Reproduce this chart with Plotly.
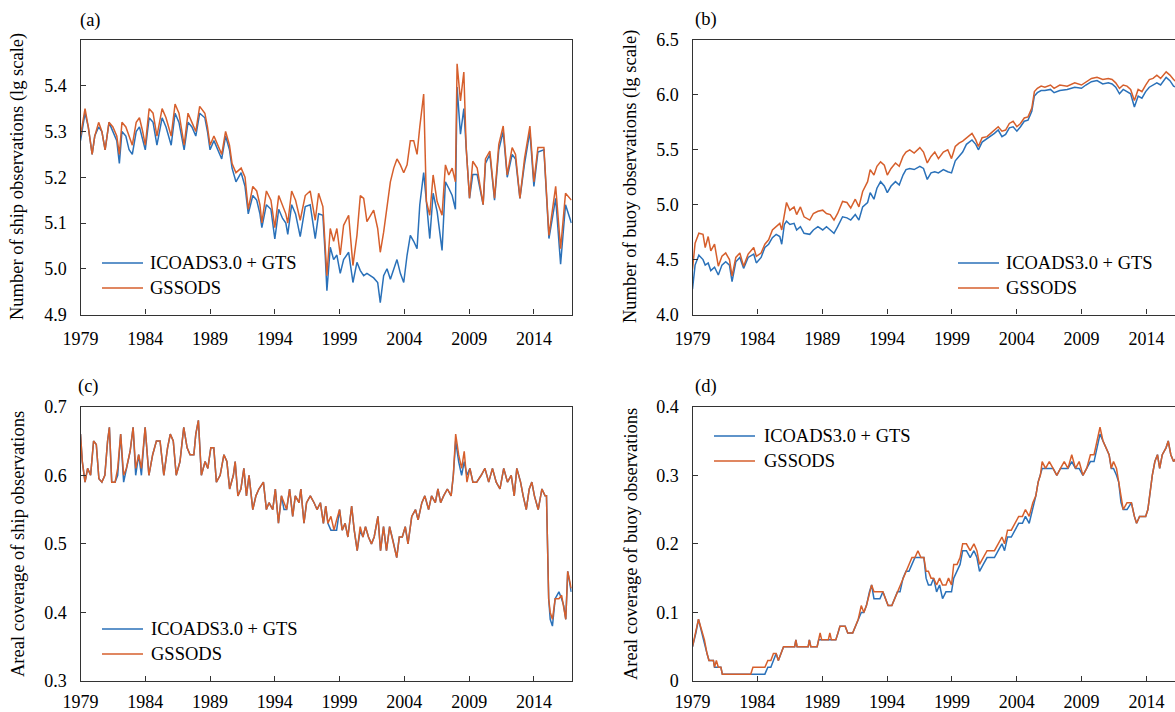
import plotly.graph_objects as go

W, H = 1175, 712
FONT = "Liberation Serif"
BLUE = "#2a71b9"
ORANGE = "#d65f2c"
AX = "#333333"

# ---------------- data (decimal years) ----------------
# (a) number of ship observations (lg scale)
a_t = [1979.00, 1979.15, 1979.35, 1979.6, 1979.9, 1980.1, 1980.4, 1980.65, 1980.9, 1981.2,
       1981.5, 1981.8, 1982.0, 1982.2, 1982.5, 1982.75, 1983.0, 1983.3, 1983.55, 1983.8,
       1984.0, 1984.3, 1984.6, 1984.9, 1985.3, 1985.6, 1986.0, 1986.3, 1986.6, 1987.0,
       1987.3, 1987.6, 1987.9, 1988.2, 1988.6, 1988.8, 1989.0, 1989.3, 1989.6, 1989.9,
       1990.2, 1990.5, 1990.7, 1991.0, 1991.4, 1991.7, 1991.95, 1992.3, 1992.6, 1992.85,
       1993.0, 1993.35, 1993.7, 1994.0, 1994.3, 1994.6, 1994.85, 1995.0, 1995.3, 1995.6,
       1995.96, 1996.35, 1996.73, 1997.12, 1997.38, 1997.71, 1997.89, 1998.02, 1998.28, 1998.54,
       1998.79, 1999.05, 1999.31, 1999.7, 2000.03, 2000.34, 2000.6, 2000.86, 2001.11, 2001.37,
       2001.63, 2001.94, 2002.14, 2002.4, 2002.66, 2002.92, 2003.18, 2003.43, 2003.69, 2003.95,
       2004.21, 2004.46, 2004.72, 2004.98, 2005.19, 2005.49, 2005.7, 2005.96, 2006.22, 2006.53,
       2006.91, 2007.17, 2007.43, 2007.69, 2007.94, 2008.07, 2008.33, 2008.59, 2008.77, 2009.03,
       2009.28, 2009.62, 2010.08, 2010.26, 2010.6, 2010.96, 2011.29, 2011.63, 2011.94, 2012.32,
       2012.58, 2012.92, 2013.28, 2013.69, 2014.0, 2014.31, 2014.77, 2015.16, 2015.68, 2016.06,
       2016.44, 2016.89]
a_gts = [5.28, 5.31, 5.34, 5.31, 5.25, 5.29, 5.31, 5.30, 5.26, 5.32,
         5.30, 5.28, 5.23, 5.30, 5.29, 5.26, 5.25, 5.30, 5.31, 5.28,
         5.26, 5.33, 5.32, 5.27, 5.33, 5.31, 5.27, 5.34, 5.32, 5.26,
         5.32, 5.31, 5.29, 5.34, 5.33, 5.30, 5.26, 5.28, 5.26, 5.24,
         5.29, 5.26, 5.22, 5.19, 5.21, 5.18, 5.12, 5.16, 5.15, 5.12,
         5.09, 5.14, 5.13, 5.065, 5.13, 5.11, 5.10, 5.075, 5.14, 5.12,
         5.07, 5.136, 5.14, 5.066, 5.12, 5.117, 5.03, 4.952, 5.047, 5.02,
         5.03, 4.99, 5.02, 5.036, 4.97, 5.014, 4.996, 4.985, 4.99, 4.985,
         4.98, 4.97, 4.926, 4.985, 5.0, 4.977, 5.0, 5.02, 4.99, 4.97,
         5.03, 5.073, 5.06, 5.044, 5.14, 5.21, 5.147, 5.066, 5.165, 5.125,
         5.04, 5.19, 5.176, 5.16, 5.13, 5.397, 5.294, 5.35, 5.265, 5.154,
         5.206, 5.206, 5.14, 5.23, 5.25, 5.15, 5.26, 5.30, 5.20, 5.25,
         5.24, 5.154, 5.23, 5.30, 5.18, 5.255, 5.26, 5.066, 5.154, 5.01,
         5.14, 5.10]
a_gss = [5.29, 5.32, 5.35, 5.31, 5.25, 5.29, 5.32, 5.30, 5.26, 5.32,
         5.31, 5.29, 5.25, 5.32, 5.31, 5.29, 5.27, 5.32, 5.33, 5.30,
         5.27, 5.35, 5.34, 5.29, 5.35, 5.33, 5.29, 5.36, 5.34, 5.27,
         5.34, 5.32, 5.30, 5.355, 5.34, 5.31, 5.27, 5.29, 5.27, 5.25,
         5.30, 5.27, 5.23, 5.21, 5.22, 5.20, 5.13, 5.18, 5.17, 5.14,
         5.10, 5.17, 5.15, 5.09, 5.16, 5.14, 5.12, 5.10, 5.17, 5.15,
         5.106, 5.16, 5.17, 5.106, 5.165, 5.136, 5.06, 4.985, 5.088, 5.06,
         5.088, 5.03, 5.095, 5.117, 5.007, 5.073, 5.16, 5.154, 5.103, 5.117,
         5.128, 5.088, 5.036, 5.08, 5.132, 5.19, 5.22, 5.24, 5.227, 5.21,
         5.227, 5.28, 5.28, 5.25, 5.31, 5.382, 5.147, 5.117, 5.205, 5.147,
         5.117, 5.227, 5.205, 5.22, 5.19, 5.448, 5.367, 5.43, 5.265, 5.154,
         5.235, 5.22, 5.14, 5.24, 5.257, 5.154, 5.272, 5.312, 5.205, 5.265,
         5.25, 5.154, 5.242, 5.312, 5.19, 5.265, 5.265, 5.073, 5.18, 5.044,
         5.165, 5.15]

# (b) number of buoy observations (lg scale)
b_t = [1979.00, 1979.20, 1979.49, 1979.81, 1979.98, 1980.21, 1980.41, 1980.70, 1980.99, 1981.27,
       1981.56, 1981.85, 1982.05, 1982.34, 1982.65, 1982.94, 1983.29, 1983.72, 1983.92, 1984.29,
       1984.58, 1984.87, 1985.16, 1985.45, 1985.73, 1985.88, 1986.08, 1986.25, 1986.51, 1986.83,
       1987.03, 1987.32, 1987.60, 1988.04, 1988.32, 1988.67, 1989.04, 1989.33, 1989.62, 1989.91,
       1990.19, 1990.57, 1990.91, 1991.20, 1991.55, 1991.83, 1992.12, 1992.50, 1992.70, 1992.99,
       1993.22, 1993.50, 1993.79, 1994.02, 1994.31, 1994.65, 1994.94, 1995.23, 1995.46, 1995.75,
       1996.09, 1996.53, 1996.81, 1997.10, 1997.39, 1997.68, 1997.96, 1998.34, 1998.68, 1998.97,
       1999.26, 1999.55, 1999.83, 2000.12, 2000.55, 2000.84, 2001.04, 2001.33, 2001.71, 2001.99,
       2002.28, 2002.57, 2002.86, 2003.14, 2003.43, 2003.72, 2004.01, 2004.29, 2004.58, 2004.87,
       2005.16, 2005.36, 2005.59, 2005.88, 2006.17, 2006.60, 2006.88, 2007.32, 2007.89, 2008.47,
       2008.99, 2009.33, 2009.76, 2010.19, 2010.63, 2011.06, 2011.35, 2011.63, 2011.92, 2012.21,
       2012.50, 2012.78, 2013.07, 2013.36, 2013.65, 2013.94, 2014.22, 2014.51, 2014.80, 2015.09,
       2015.52, 2015.81, 2016.09, 2016.5, 2016.92]
b_gts = [4.23, 4.45, 4.54, 4.50, 4.45, 4.47, 4.40, 4.43, 4.36, 4.45,
         4.48, 4.45, 4.30, 4.48, 4.52, 4.42, 4.52, 4.55, 4.47, 4.52,
         4.61, 4.64, 4.70, 4.73, 4.71, 4.64, 4.82, 4.85, 4.82, 4.83,
         4.77, 4.80, 4.74, 4.73, 4.77, 4.80, 4.77, 4.80, 4.77, 4.74,
         4.80, 4.89, 4.88, 4.86, 4.91, 4.86, 4.98, 5.02, 5.11, 5.05,
         5.15, 5.21, 5.17, 5.11, 5.17, 5.21, 5.18, 5.27, 5.32, 5.33,
         5.32, 5.35, 5.33, 5.23, 5.29, 5.30, 5.29, 5.32, 5.30, 5.29,
         5.40, 5.44, 5.48, 5.55, 5.59, 5.55, 5.50, 5.57, 5.60, 5.62,
         5.65, 5.68, 5.62, 5.64, 5.70, 5.71, 5.67, 5.71, 5.76, 5.77,
         5.85, 5.99, 6.02, 6.04, 6.04, 6.05, 6.02, 6.04, 6.05, 6.07,
         6.06, 6.09, 6.12, 6.13, 6.10, 6.11, 6.10, 6.07, 6.01, 6.05,
         6.03, 6.01, 5.89, 5.99, 5.97, 6.03, 6.07, 6.09, 6.11, 6.09,
         6.16, 6.13, 6.08, 6.06, 6.04]
b_gss = [4.41, 4.65, 4.74, 4.73, 4.61, 4.71, 4.58, 4.64, 4.44, 4.53,
         4.56, 4.50, 4.35, 4.52, 4.56, 4.44, 4.55, 4.61, 4.53, 4.56,
         4.64, 4.68, 4.77, 4.80, 4.83, 4.77, 4.92, 5.02, 4.95, 4.98,
         4.91, 4.98, 4.89, 4.86, 4.92, 4.94, 4.95, 4.92, 4.91, 4.86,
         4.92, 5.03, 5.02, 4.97, 5.05, 4.98, 5.12, 5.21, 5.32, 5.27,
         5.35, 5.39, 5.36, 5.27, 5.33, 5.38, 5.35, 5.44, 5.48, 5.50,
         5.47, 5.52, 5.48, 5.38, 5.44, 5.48, 5.42, 5.48, 5.50, 5.42,
         5.53, 5.56, 5.58, 5.61, 5.65, 5.59, 5.53, 5.61, 5.62, 5.65,
         5.68, 5.71, 5.67, 5.68, 5.74, 5.76, 5.71, 5.74, 5.79, 5.80,
         5.88, 6.03, 6.06, 6.08, 6.07, 6.09, 6.06, 6.09, 6.08, 6.11,
         6.09, 6.12, 6.15, 6.16, 6.14, 6.15, 6.14, 6.11, 6.06, 6.09,
         6.08, 6.05, 5.95, 6.05, 6.03, 6.09, 6.14, 6.15, 6.18, 6.15,
         6.21, 6.18, 6.14, 6.10, 6.08]

# (c) areal coverage of ship observations
c_t = [1979.00, 1979.14, 1979.35, 1979.55, 1979.78, 1980.01, 1980.22, 1980.42, 1980.65, 1980.88,
       1981.09, 1981.23, 1981.41, 1981.67, 1981.87, 1982.10, 1982.33, 1982.54, 1982.83, 1983.06,
       1983.26, 1983.49, 1983.70, 1983.99, 1984.28, 1984.57, 1984.86, 1985.14, 1985.43, 1985.72,
       1985.93, 1986.16, 1986.39, 1986.68, 1986.97, 1987.23, 1987.46, 1987.75, 1987.90, 1988.10,
       1988.33, 1988.62, 1988.83, 1989.06, 1989.29, 1989.49, 1989.78, 1990.07, 1990.30, 1990.51,
       1990.80, 1990.94, 1991.15, 1991.38, 1991.61, 1991.81, 1992.01, 1992.30, 1992.54, 1992.77,
       1993.12, 1993.35, 1993.55, 1993.84, 1994.04, 1994.28, 1994.51, 1994.71, 1994.91, 1995.14,
       1995.38, 1995.58, 1995.87, 1996.01, 1996.25, 1996.45, 1996.74, 1997.03, 1997.26, 1997.52,
       1997.75, 1997.93, 1998.10, 1998.33, 1998.57, 1998.77, 1999.00, 1999.20, 1999.43, 1999.64,
       1999.93, 2000.13, 2000.36, 2000.59, 2000.80, 2001.00, 2001.23, 2001.46, 2001.67, 2001.96,
       2002.16, 2002.39, 2002.62, 2002.86, 2003.12, 2003.41, 2003.61, 2003.84, 2004.07, 2004.28,
       2004.57, 2004.86, 2005.06, 2005.35, 2005.58, 2005.87, 2006.10, 2006.39, 2006.59, 2006.80,
       2007.03, 2007.32, 2007.61, 2007.78, 2007.96, 2008.19, 2008.42, 2008.62, 2008.83, 2009.06,
       2009.29, 2009.58, 2009.93, 2010.22, 2010.51, 2010.80, 2011.09, 2011.38, 2011.67, 2011.96,
       2012.25, 2012.48, 2012.68, 2012.97, 2013.17, 2013.41, 2013.64, 2013.84, 2014.04, 2014.33,
       2014.62, 2014.86, 2014.97, 2015.14, 2015.26, 2015.43, 2015.64, 2015.93, 2016.14, 2016.30,
       2016.46, 2016.61, 2016.88]
c_gts = [0.66, 0.62, 0.59, 0.61, 0.60, 0.65, 0.645, 0.595, 0.59, 0.60,
         0.65, 0.67, 0.59, 0.59, 0.60, 0.66, 0.59, 0.61, 0.635, 0.67,
         0.60, 0.63, 0.60, 0.67, 0.60, 0.63, 0.65, 0.65, 0.60, 0.64,
         0.66, 0.65, 0.60, 0.62, 0.67, 0.64, 0.63, 0.63, 0.66, 0.68,
         0.60, 0.62, 0.61, 0.64, 0.64, 0.59, 0.60, 0.63, 0.62, 0.58,
         0.60, 0.62, 0.57, 0.58, 0.61, 0.57, 0.60, 0.55, 0.57, 0.58,
         0.59, 0.55, 0.56, 0.55, 0.58, 0.53, 0.57, 0.55, 0.55, 0.58,
         0.54, 0.57, 0.56, 0.58, 0.53, 0.56, 0.57, 0.56, 0.55, 0.56,
         0.53, 0.555, 0.53, 0.52, 0.52, 0.52, 0.55, 0.52, 0.53, 0.51,
         0.555, 0.52, 0.49, 0.52, 0.51, 0.525, 0.51, 0.50, 0.51, 0.54,
         0.49, 0.525, 0.49, 0.525, 0.505, 0.48, 0.51, 0.51, 0.525, 0.50,
         0.54, 0.55, 0.535, 0.56, 0.57, 0.55, 0.57, 0.56, 0.58, 0.56,
         0.57, 0.58, 0.57, 0.60, 0.65, 0.62, 0.60, 0.62, 0.60, 0.61,
         0.59, 0.59, 0.60, 0.61, 0.59, 0.61, 0.59, 0.58, 0.61, 0.59,
         0.60, 0.57, 0.61, 0.59, 0.57, 0.55, 0.58, 0.59, 0.57, 0.55,
         0.58, 0.57, 0.57, 0.42, 0.39, 0.38, 0.42, 0.43, 0.42, 0.41,
         0.39, 0.46, 0.43]
c_gss = [0.66, 0.62, 0.59, 0.61, 0.60, 0.65, 0.645, 0.595, 0.59, 0.60,
         0.65, 0.67, 0.59, 0.59, 0.61, 0.66, 0.60, 0.61, 0.635, 0.67,
         0.61, 0.63, 0.61, 0.67, 0.60, 0.63, 0.65, 0.65, 0.60, 0.64,
         0.66, 0.65, 0.60, 0.62, 0.67, 0.64, 0.63, 0.63, 0.66, 0.68,
         0.60, 0.62, 0.61, 0.64, 0.64, 0.59, 0.60, 0.63, 0.62, 0.58,
         0.60, 0.62, 0.57, 0.58, 0.61, 0.57, 0.60, 0.55, 0.57, 0.58,
         0.59, 0.55, 0.56, 0.55, 0.58, 0.53, 0.57, 0.56, 0.55, 0.58,
         0.54, 0.57, 0.56, 0.58, 0.53, 0.56, 0.57, 0.56, 0.55, 0.56,
         0.53, 0.555, 0.53, 0.54, 0.52, 0.535, 0.55, 0.52, 0.53, 0.51,
         0.555, 0.52, 0.49, 0.525, 0.51, 0.525, 0.51, 0.50, 0.51, 0.54,
         0.49, 0.525, 0.49, 0.525, 0.505, 0.48, 0.51, 0.51, 0.525, 0.50,
         0.54, 0.55, 0.535, 0.56, 0.57, 0.55, 0.57, 0.56, 0.58, 0.56,
         0.57, 0.58, 0.57, 0.60, 0.66, 0.63, 0.61, 0.635, 0.59, 0.61,
         0.59, 0.59, 0.60, 0.61, 0.59, 0.61, 0.59, 0.58, 0.61, 0.59,
         0.60, 0.57, 0.61, 0.59, 0.57, 0.55, 0.58, 0.59, 0.57, 0.55,
         0.58, 0.57, 0.57, 0.42, 0.40, 0.39, 0.42, 0.42, 0.425, 0.41,
         0.39, 0.46, 0.435]

# (d) areal coverage of buoy observations
d_t = [1979.00, 1979.26, 1979.46, 1979.69, 1979.92, 1980.12, 1980.27, 1980.61, 1980.70, 1980.84,
       1980.99, 1981.19, 1981.30, 1983.49, 1983.66, 1983.95, 1984.06, 1984.35, 1984.58, 1984.81,
       1985.04, 1985.24, 1985.45, 1985.62, 1985.79, 1986.02, 1986.88, 1986.97, 1987.06, 1987.92,
       1988.01, 1988.12, 1988.61, 1988.73, 1988.84, 1988.96, 1989.47, 1989.59, 1989.71, 1990.05,
       1990.22, 1990.37, 1990.77, 1990.97, 1991.35, 1991.55, 1991.78, 1992.01, 1992.21, 1992.41,
       1992.64, 1992.81, 1992.99, 1993.22, 1993.45, 1993.68, 1993.88, 1994.08, 1994.37, 1994.60,
       1994.80, 1995.00, 1995.23, 1995.46, 1995.69, 1995.92, 1996.15, 1996.38, 1996.61, 1996.84,
       1997.01, 1997.19, 1997.39, 1997.59, 1997.82, 1998.05, 1998.28, 1998.54, 1998.74, 1998.97,
       1999.14, 1999.40, 1999.63, 1999.83, 2000.12, 2000.41, 2000.70, 2000.93, 2001.13, 2001.42,
       2001.71, 2001.99, 2002.28, 2002.57, 2002.86, 2003.06, 2003.29, 2003.58, 2003.86, 2004.15,
       2004.44, 2004.67, 2004.96, 2005.24, 2005.47, 2005.65, 2005.82, 2005.96, 2006.22, 2006.51,
       2006.80, 2007.09, 2007.37, 2007.66, 2007.95, 2008.24, 2008.53, 2008.81, 2009.10, 2009.39,
       2009.68, 2009.96, 2010.19, 2010.42, 2010.65, 2010.88, 2011.12, 2011.29, 2011.46, 2011.69,
       2011.86, 2012.04, 2012.21, 2012.50, 2012.84, 2013.07, 2013.24, 2013.47, 2013.94, 2014.11,
       2014.28, 2014.45, 2014.65, 2014.85, 2015.02, 2015.22, 2015.51, 2015.68, 2015.88, 2016.09,
       2016.5, 2016.92]
d_gts = [0.05, 0.07, 0.09, 0.07, 0.055, 0.04, 0.03, 0.03, 0.02, 0.02,
         0.02, 0.02, 0.01, 0.01, 0.01, 0.01, 0.01, 0.01, 0.01, 0.02,
         0.02, 0.03, 0.04, 0.03, 0.04, 0.05, 0.05, 0.06, 0.05, 0.05,
         0.06, 0.05, 0.05, 0.06, 0.06, 0.06, 0.06, 0.06, 0.06, 0.06,
         0.07, 0.08, 0.08, 0.07, 0.07, 0.08, 0.09, 0.10, 0.10, 0.11,
         0.13, 0.14, 0.12, 0.12, 0.12, 0.13, 0.12, 0.11, 0.11, 0.12,
         0.13, 0.13, 0.15, 0.16, 0.16, 0.17, 0.18, 0.18, 0.18, 0.18,
         0.15, 0.14, 0.14, 0.15, 0.13, 0.14, 0.12, 0.13, 0.13, 0.13,
         0.15, 0.16, 0.17, 0.19, 0.19, 0.18, 0.19, 0.18, 0.16, 0.17,
         0.18, 0.18, 0.18, 0.19, 0.20, 0.19, 0.21, 0.21, 0.22, 0.23,
         0.23, 0.24, 0.23, 0.25, 0.27, 0.29, 0.30, 0.31, 0.31, 0.31,
         0.31, 0.30, 0.31, 0.31, 0.31, 0.32, 0.31, 0.31, 0.30, 0.31,
         0.32, 0.32, 0.34, 0.36, 0.35, 0.34, 0.33, 0.31, 0.31, 0.30,
         0.29, 0.26, 0.25, 0.25, 0.26, 0.24, 0.23, 0.24, 0.24, 0.25,
         0.28, 0.30, 0.32, 0.33, 0.31, 0.33, 0.34, 0.35, 0.33, 0.32,
         0.33, 0.33]
d_gss = [0.05, 0.075, 0.09, 0.075, 0.06, 0.04, 0.03, 0.03, 0.02, 0.03,
         0.02, 0.02, 0.01, 0.01, 0.02, 0.02, 0.02, 0.02, 0.02, 0.03,
         0.03, 0.04, 0.04, 0.03, 0.04, 0.05, 0.05, 0.06, 0.05, 0.05,
         0.06, 0.05, 0.05, 0.06, 0.07, 0.06, 0.06, 0.07, 0.06, 0.06,
         0.07, 0.08, 0.08, 0.07, 0.07, 0.08, 0.09, 0.11, 0.10, 0.11,
         0.13, 0.14, 0.13, 0.13, 0.13, 0.13, 0.12, 0.11, 0.11, 0.12,
         0.13, 0.14, 0.15, 0.16, 0.17, 0.18, 0.18, 0.19, 0.18, 0.18,
         0.16, 0.16, 0.15, 0.15, 0.14, 0.15, 0.14, 0.14, 0.15, 0.14,
         0.17, 0.17, 0.18, 0.20, 0.20, 0.19, 0.20, 0.19, 0.17, 0.18,
         0.19, 0.19, 0.19, 0.20, 0.21, 0.20, 0.22, 0.22, 0.23, 0.24,
         0.24, 0.25, 0.24, 0.26, 0.27, 0.29, 0.30, 0.32, 0.31, 0.32,
         0.31, 0.30, 0.31, 0.32, 0.31, 0.33, 0.31, 0.32, 0.30, 0.31,
         0.33, 0.33, 0.35, 0.37, 0.35, 0.34, 0.33, 0.31, 0.32, 0.31,
         0.29, 0.27, 0.25, 0.26, 0.26, 0.24, 0.23, 0.24, 0.24, 0.25,
         0.28, 0.30, 0.32, 0.33, 0.31, 0.33, 0.34, 0.35, 0.33, 0.32,
         0.33, 0.33]

series_names = ["ICOADS3.0 + GTS", "GSSODS"]
x_ticks = [1979, 1984, 1989, 1994, 1999, 2004, 2009, 2014]
a_yticks = [4.9, 5.0, 5.1, 5.2, 5.3, 5.4]
b_yticks = [4.0, 4.5, 5.0, 5.5, 6.0, 6.5]
c_yticks = [0.3, 0.4, 0.5, 0.6, 0.7]
d_yticks = [0, 0.1, 0.2, 0.3, 0.4]
a_ylabels = ["4.9", "5.0", "5.1", "5.2", "5.3", "5.4"]
b_ylabels = ["4.0", "4.5", "5.0", "5.5", "6.0", "6.5"]
c_ylabels = ["0.3", "0.4", "0.5", "0.6", "0.7"]
d_ylabels = ["0", "0.1", "0.2", "0.3", "0.4"]
titles = ["Number of ship observations (lg scale)",
          "Number of buoy observations (lg scale)",
          "Areal coverage of ship observations",
          "Areal coverage of buoy observations"]

# ---------------- layout geometry (pixels) ----------------
def px_x(p):
    return p / W

def px_y(p):
    return 1 - p / H

LEFT = (80.5, 571.7)
RIGHT = (692.5, 1175.0)
TOP = (40.0, 314.5)
BOT = (406.7, 681.0)

fig = go.Figure()

panels = [
    ("x", "y", a_t, a_gts, a_gss),
    ("x2", "y2", b_t, b_gts, b_gss),
    ("x3", "y3", c_t, c_gts, c_gss),
    ("x4", "y4", d_t, d_gts, d_gss),
]
for xa, ya, t, g1, g2 in panels:
    fig.add_trace(go.Scatter(x=t, y=g1, mode="lines", name=series_names[0], xaxis=xa, yaxis=ya,
                             line=dict(color=BLUE, width=1.5), showlegend=False))
    fig.add_trace(go.Scatter(x=t, y=g2, mode="lines", name=series_names[1], xaxis=xa, yaxis=ya,
                             line=dict(color=ORANGE, width=1.5), showlegend=False))

tickfont = dict(family=FONT, size=18, color="black")

def xaxis(dom, rng, anchor, standoff):
    return dict(domain=[px_x(dom[0]), px_x(dom[1])], range=rng, anchor=anchor,
                tickmode="array", tickvals=x_ticks, ticktext=[str(v) for v in x_ticks],
                ticks="inside", ticklen=5, tickwidth=1, tickcolor=AX,
                showline=True, linecolor=AX, linewidth=1.3, mirror=True, automargin=False,
                showgrid=False, zeroline=False, tickfont=tickfont, ticklabelstandoff=standoff)

def yaxis(dom, rng, anchor, vals, labels, mirror):
    return dict(domain=[px_y(dom[1]), px_y(dom[0])], range=rng, anchor=anchor,
                tickmode="array", tickvals=vals, ticktext=labels,
                ticks="inside", ticklen=5, tickwidth=1, tickcolor=AX,
                showline=True, linecolor=AX, linewidth=1.3, mirror=mirror, automargin=False,
                showgrid=False, zeroline=False, tickfont=tickfont, ticklabelstandoff=9)

right_end = 1979 + (RIGHT[1] - RIGHT[0]) / 12.97

fig.update_layout(
    width=W, height=H, margin=dict(l=0, r=0, t=0, b=0, autoexpand=False),
    paper_bgcolor="white", plot_bgcolor="white", showlegend=False,
    xaxis=xaxis(LEFT, [1979, 2016.917], "y", 8),
    yaxis=yaxis(TOP, [4.9, 5.5], "x", a_yticks, a_ylabels, True),
    xaxis2=xaxis(RIGHT, [1979, right_end], "y2", 8),
    yaxis2=yaxis(TOP, [4.0, 6.5], "x2", b_yticks, b_ylabels, False),
    xaxis3=xaxis(LEFT, [1979, 2016.917], "y3", 4),
    yaxis3=yaxis(BOT, [0.3, 0.7], "x3", c_yticks, c_ylabels, True),
    xaxis4=xaxis(RIGHT, [1979, right_end], "y4", 4),
    yaxis4=yaxis(BOT, [0, 0.4], "x4", d_yticks, d_ylabels, False),
)

txtfont = dict(family=FONT, size=18.5, color="black")
ann = []
# panel letters
for lab, xp, yp in [("(a)", 90, 21), ("(b)", 706, 20), ("(c)", 88, 386), ("(d)", 706, 386)]:
    ann.append(dict(text=lab, x=px_x(xp), y=px_y(yp), xref="paper", yref="paper",
                    showarrow=False, font=txtfont, xanchor="center", yanchor="middle"))
# y titles
for ttl, xp, yp in [(titles[0], 18, 177), (titles[1], 631, 177), (titles[2], 18, 544), (titles[3], 631, 544)]:
    ann.append(dict(text=ttl, x=px_x(xp), y=px_y(yp), xref="paper", yref="paper", textangle=-90,
                    showarrow=False, font=txtfont, xanchor="center", yanchor="middle"))

# legends (line sample + label)
shapes = []
legend_pos = [(102, 143, 148, 263, 288), (958, 999, 1004, 263, 288),
              (102, 143, 149, 629, 654), (714, 755, 762, 436, 461)]
for x0, x1, xt, y1, y2 in legend_pos:
    for name, col, yy in [(series_names[0], BLUE, y1), (series_names[1], ORANGE, y2)]:
        shapes.append(dict(type="line", xref="paper", yref="paper", x0=px_x(x0), x1=px_x(x1),
                           y0=px_y(yy), y1=px_y(yy), line=dict(color=col, width=1.5)))
        ann.append(dict(text=name, x=px_x(xt), y=px_y(yy), xref="paper", yref="paper",
                        showarrow=False, font=txtfont, xanchor="left", yanchor="middle"))

fig.update_layout(annotations=ann, shapes=shapes)
fig.write_html("out.html")
